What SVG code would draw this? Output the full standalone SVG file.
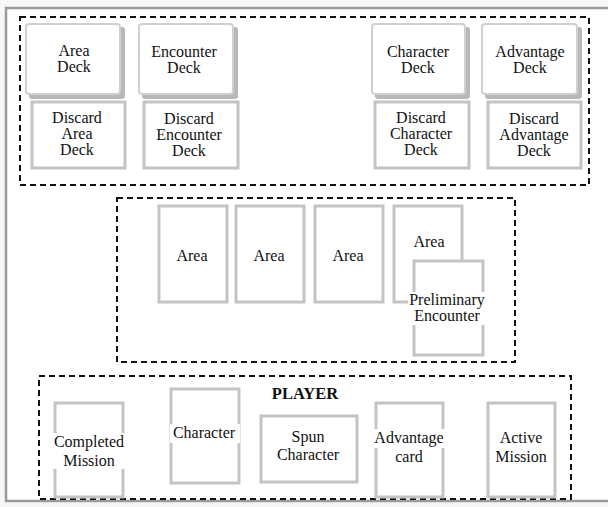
<svg xmlns="http://www.w3.org/2000/svg" width="608" height="507" viewBox="0 0 608 507">
<defs>
<style>
.t{font-family:Liberation Serif,Times New Roman,Times,DejaVu Serif,Noto Serif,serif;font-size:16px;fill:#111;text-anchor:middle}
.b{font-weight:bold;font-size:16.5px}
.dash{fill:none;stroke:#111;stroke-width:2;stroke-dasharray:6,4}
.card{fill:#fff;stroke:#c4c4c4;stroke-width:3}
.deck{fill:#fff;stroke:#d0d0d0;stroke-width:2}
.shadow{fill:#b8b8b8}
.lbl{fill:#fff}
</style>
</defs>
<rect x="0" y="0" width="608" height="507" fill="#f7f7f7"/>
<rect x="6" y="8" width="612" height="493" fill="#fff" stroke="#9a9a9a" stroke-width="2.5"/>
<g id="frames">
<rect class="dash" x="20" y="17" width="569" height="168"/>
<rect class="dash" x="117" y="198" width="398" height="164"/>
<rect class="dash" x="39" y="376" width="532" height="123"/>
</g>
<g id="area-deck">
<rect class="shadow" x="29" y="27" width="96" height="72" rx="3"/>
<rect class="deck" x="26" y="24" width="94" height="70" rx="3"/>
<text class="t" x="74" y="56" font-family="Liberation Serif, serif">Area</text><text class="t" x="74" y="72" font-family="Liberation Serif, serif">Deck</text>
</g>
<g id="encounter-deck">
<rect class="shadow" x="142" y="27" width="96" height="72" rx="3"/>
<rect class="deck" x="139" y="24" width="94" height="70" rx="3"/>
<text class="t" x="184" y="57">Encounter</text><text class="t" x="184" y="73">Deck</text>
</g>
<g id="character-deck">
<rect class="shadow" x="375" y="27" width="95" height="72" rx="3"/>
<rect class="deck" x="372" y="24" width="93" height="70" rx="3"/>
<text class="t" x="418" y="57">Character</text><text class="t" x="418" y="73">Deck</text>
</g>
<g id="advantage-deck">
<rect class="shadow" x="485" y="27" width="97" height="72" rx="3"/>
<rect class="deck" x="482" y="24" width="95" height="70" rx="3"/>
<text class="t" x="530" y="57">Advantage</text><text class="t" x="530" y="73">Deck</text>
</g>
<g id="discard-area-deck">
<rect class="card" x="32" y="102" width="93" height="66"/>
<text class="t" x="77" y="123">Discard</text><text class="t" x="77" y="139">Area</text><text class="t" x="77" y="155">Deck</text>
</g>
<g id="discard-encounter-deck">
<rect class="card" x="144" y="102" width="94" height="66"/>
<text class="t" x="189" y="124">Discard</text><text class="t" x="189" y="140">Encounter</text><text class="t" x="189" y="156">Deck</text>
</g>
<g id="discard-character-deck">
<rect class="card" x="375" y="102" width="94" height="66"/>
<text class="t" x="421" y="123">Discard</text><text class="t" x="421" y="139">Character</text><text class="t" x="421" y="155">Deck</text>
</g>
<g id="discard-advantage-deck">
<rect class="card" x="488" y="102" width="93" height="66"/>
<text class="t" x="534" y="124">Discard</text><text class="t" x="534" y="140">Advantage</text><text class="t" x="534" y="156">Deck</text>
</g>
<g id="area-1">
<rect class="card" x="159" y="206" width="68" height="96"/>
<text class="t" x="192" y="261">Area</text>
</g>
<g id="area-2">
<rect class="card" x="236" y="206" width="68" height="96"/>
<text class="t" x="269" y="261">Area</text>
</g>
<g id="area-3">
<rect class="card" x="315" y="206" width="68" height="96"/>
<text class="t" x="348" y="261">Area</text>
</g>
<g id="area-4">
<rect class="card" x="394" y="206" width="68" height="96"/>
<text class="t" x="429" y="247">Area</text>
</g>
<g id="preliminary-encounter">
<rect class="card" x="414" y="261" width="69" height="94"/>
<rect class="lbl" x="408" y="292" width="78" height="33"/>
<text class="t" x="447" y="305">Preliminary</text><text class="t" x="447" y="321">Encounter</text>
</g>
<g id="player">
<text class="t b" x="305" y="399">PLAYER</text>
</g>
<g id="completed-mission">
<rect class="card" x="55" y="403" width="68" height="94"/>
<rect class="lbl" x="52" y="433" width="74" height="36"/>
<text class="t" x="89" y="447">Completed</text><text class="t" x="89" y="466">Mission</text>
</g>
<g id="character">
<rect class="card" x="171" y="389" width="68" height="94"/>
<rect class="lbl" x="170" y="424" width="70" height="19"/>
<text class="t" x="204" y="438">Character</text>
</g>
<g id="spun-character">
<rect class="card" x="261" y="416" width="96" height="66"/>
<text class="t" x="308" y="442">Spun</text><text class="t" x="308" y="460">Character</text>
</g>
<g id="advantage-card">
<rect class="card" x="376" y="403" width="67" height="94"/>
<rect class="lbl" x="373" y="429" width="74" height="19"/>
<text class="t" x="409" y="443">Advantage</text><text class="t" x="409" y="462">card</text>
</g>
<g id="active-mission">
<rect class="card" x="488" y="403" width="67" height="94"/>
<text class="t" x="521" y="443">Active</text><text class="t" x="521" y="462">Mission</text>
</g>
<g id="connectors"></g>
</svg>
